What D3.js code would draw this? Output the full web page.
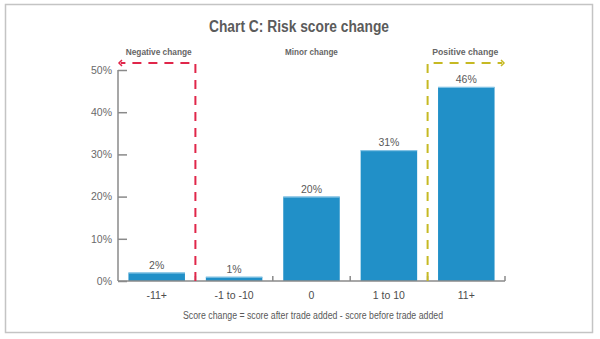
<!DOCTYPE html>
<html>
<head>
<meta charset="utf-8">
<script src="https://cdn.jsdelivr.net/npm/d3@7"></script>
<style>
  body { margin: 0; background: #fff; }
  svg { display: block; font-family: "Liberation Sans", Arial, sans-serif; }
</style>
</head>
<body>
<svg id="chart" width="600" height="339"></svg>
<script>
const categories = ['-11+', '-1 to -10', '0', '1 to 10', '11+'];
const shares = [2, 1, 20, 31, 46];
const yTicks = [0, 10, 20, 30, 40, 50];
const zones = [
  { label: 'Negative change', from: 0, to: 1 },
  { label: 'Minor change', from: 1, to: 4 },
  { label: 'Positive change', from: 4, to: 5 }
];

const width = 600;
const height = 339;
const margin = { top: 70, right: 95, bottom: 58, left: 118 };

const svg = d3.select('#chart');

// frame around the whole figure
svg.append('rect')
  .attr('x', 5.5).attr('y', 4.5)
  .attr('width', 587).attr('height', 328)
  .attr('fill', 'none')
  .attr('stroke', '#c4c4c4')
  .attr('stroke-width', 1.5);

const x = d3.scaleBand()
  .domain(categories)
  .range([margin.left, width - margin.right])
  .paddingInner(0.27)
  .paddingOuter(0.135);

const y = d3.scaleLinear()
  .domain([0, 50])
  .range([height - margin.bottom, margin.top]);

// band boundary helper (edges between categories)
const edge = (i) => margin.left + i * x.step();

svg.append('text')
  .attr('x', 299).attr('y', 32)
  .attr('text-anchor', 'middle')
  .attr('font-size', 16)
  .attr('font-weight', 'bold')
  .attr('fill', '#5b5b5b')
  .attr('textLength', 180)
  .attr('lengthAdjust', 'spacingAndGlyphs')
  .text('Chart C: Risk score change');

// y axis: ticks point inward
const yAxis = svg.append('g')
  .attr('transform', `translate(${margin.left},0)`)
  .call(d3.axisRight(y).tickValues(yTicks).tickSize(9).tickFormat((d) => d + '%'));
yAxis.select('.domain').attr('stroke', '#8a8a8a').attr('stroke-width', 1.5)
  .attr('d', `M0,${y(0)}V${y(50)}`);
yAxis.selectAll('.tick line').attr('stroke', '#8a8a8a').attr('stroke-width', 1.5);
yAxis.selectAll('.tick text')
  .attr('x', -6)
  .attr('text-anchor', 'end')
  .attr('fill', '#6a6a6a')
  .attr('font-size', 10.5)
  .attr('font-family', '"Liberation Sans", Arial, sans-serif');

// bars
const bars = svg.append('g');
bars.selectAll('rect')
  .data(shares)
  .join('rect')
  .attr('x', (d, i) => x(categories[i]))
  .attr('y', (d) => y(d))
  .attr('width', x.bandwidth())
  .attr('height', (d) => y(0) - y(d))
  .attr('fill', '#2190c8');
bars.selectAll('line')
  .data(shares)
  .join('line')
  .attr('x1', (d, i) => x(categories[i]))
  .attr('x2', (d, i) => x(categories[i]) + x.bandwidth())
  .attr('y1', (d) => y(d) + 0.5)
  .attr('y2', (d) => y(d) + 0.5)
  .attr('stroke', '#8fc9e8')
  .attr('stroke-width', 1);

// value labels
svg.append('g').selectAll('text')
  .data(shares)
  .join('text')
  .attr('x', (d, i) => x(categories[i]) + x.bandwidth() / 2)
  .attr('y', (d) => y(d) - 4)
  .attr('text-anchor', 'middle')
  .attr('font-size', 10.5)
  .attr('fill', '#595959')
  .text((d) => d + '%');

// x axis baseline with small upward ticks at band edges
const xAxisG = svg.append('g');
xAxisG.append('line')
  .attr('x1', margin.left).attr('x2', width - margin.right)
  .attr('y1', y(0)).attr('y2', y(0))
  .attr('stroke', '#8a8a8a').attr('stroke-width', 1.5);
xAxisG.selectAll('line.edge')
  .data(d3.range(1, categories.length + 1))
  .join('line')
  .attr('class', 'edge')
  .attr('x1', (i) => edge(i)).attr('x2', (i) => edge(i))
  .attr('y1', y(0)).attr('y2', y(0) - 5)
  .attr('stroke', '#8a8a8a').attr('stroke-width', 1.5);
xAxisG.selectAll('text')
  .data(categories)
  .join('text')
  .attr('x', (d) => x(d) + x.bandwidth() / 2)
  .attr('y', y(0) + 18)
  .attr('text-anchor', 'middle')
  .attr('font-size', 10.5)
  .attr('fill', '#4d4d4d')
  .text((d) => d);

// zone headings
svg.append('g').selectAll('text')
  .data(zones)
  .join('text')
  .attr('x', (d) => (edge(d.from) + edge(d.to)) / 2 + (d.from === 0 ? 2 : (d.to === 5 ? -1 : 0)))
  .attr('y', 55)
  .attr('text-anchor', 'middle')
  .attr('font-size', 9)
  .attr('font-weight', 'bold')
  .attr('fill', '#666')
  .attr('textLength', (d) => d.label.length * 4.4)
  .attr('lengthAdjust', 'spacingAndGlyphs')
  .text((d) => d.label);

// dashed brackets marking negative / positive zones
const bracketY = 63;
const dash = '9,7';

const neg = svg.append('g').attr('stroke', '#e0264a').attr('fill', 'none').attr('stroke-width', 2);
neg.append('path')
  .attr('stroke-dasharray', dash)
  .attr('d', `M${edge(1)},${y(0)}V${bracketY}H${edge(0) + 3}`);
neg.append('path')
  .attr('stroke-width', 1.5)
  .attr('d', `M${edge(0) + 4},${bracketY - 3}L${edge(0) + 1},${bracketY}L${edge(0) + 4},${bracketY + 3}`);

const pos = svg.append('g').attr('stroke', '#c6b923').attr('fill', 'none').attr('stroke-width', 2);
pos.append('path')
  .attr('stroke-dasharray', dash)
  .attr('d', `M${edge(4)},${y(0)}V${bracketY}H${edge(5) - 3}`);
pos.append('path')
  .attr('stroke-width', 1.5)
  .attr('d', `M${edge(5) - 4},${bracketY - 3}L${edge(5) - 1},${bracketY}L${edge(5) - 4},${bracketY + 3}`);

svg.append('text')
  .attr('x', 313).attr('y', 319)
  .attr('text-anchor', 'middle')
  .attr('font-size', 10)
  .attr('fill', '#595959')
  .attr('textLength', 260)
  .attr('lengthAdjust', 'spacingAndGlyphs')
  .text('Score change = score after trade added - score before trade added');
</script>
</body>
</html>
